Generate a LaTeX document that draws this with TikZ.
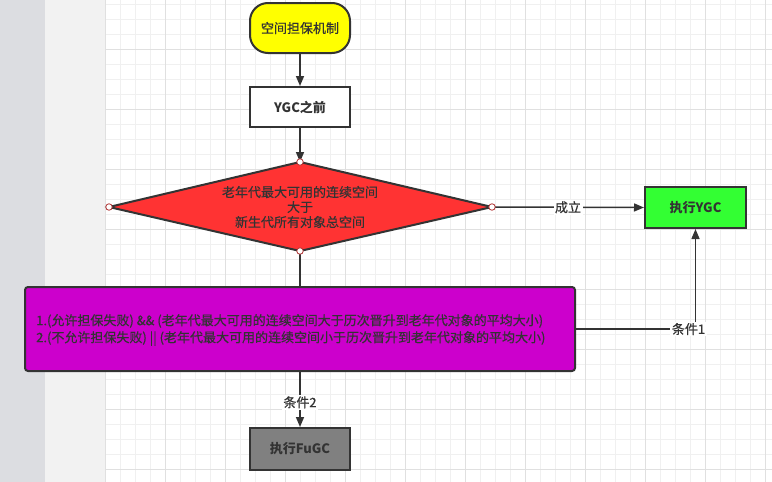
\documentclass[tikz,border=0pt]{standalone}
\usepackage{fontspec}
\setmainfont{Noto Sans CJK SC}
\newfontfamily\medfont[FakeBold=0.6]{Noto Sans CJK SC}
\usetikzlibrary{arrows.meta}
\definecolor{ink}{HTML}{333333}
\definecolor{stripA}{HTML}{DCDDE1}
\definecolor{stripB}{HTML}{F2F2F2}
\definecolor{gridminor}{HTML}{F0F0F0}
\definecolor{gridmajor}{HTML}{E0E0E0}
\definecolor{startfill}{HTML}{FFFF00}
\definecolor{dfill}{HTML}{FF3333}
\definecolor{gfill}{HTML}{33FF33}
\definecolor{pfill}{HTML}{CC00CC}
\definecolor{grayfill}{HTML}{808080}
\definecolor{portred}{HTML}{B03030}
\tikzset{
  boxbase/.style={draw=ink, line width=2pt, text=ink, font=\medfont\fontsize{13pt}{15pt}\selectfont, inner sep=2pt, align=center},
  procbox/.style={boxbase, minimum width=100pt, minimum height=40pt},
  edge/.style={draw=ink, line width=1.5pt, -{Triangle[length=10pt,width=8pt]}},
  plainedge/.style={draw=ink, line width=1.5pt},
  elabel/.style={fill=white, text=ink, font=\medfont\fontsize{13pt}{15pt}\selectfont, inner sep=1.5pt},
  port/.style={circle, draw=portred, fill=white, line width=0.8pt, inner sep=0pt, minimum size=6.5pt},
  minorline/.style={draw=gridminor, line width=0.8pt},
  majorline/.style={draw=gridmajor, line width=0.8pt}
}
\begin{document}
\begin{tikzpicture}[x=1pt,y=-1pt]
\useasboundingbox (0,0) rectangle (772,482);
% background
\fill[stripA] (0,0) rectangle (45,482);
\fill[stripB] (45,0) rectangle (105,482);
\fill[white] (105,0) rectangle (772,482);
\foreach \x in {105,120,...,772} \draw[minorline] (\x,0) -- (\x,482);
\foreach \y in {4,19,...,482} \draw[minorline] (105,\y) -- (772,\y);
\foreach \x in {105,165,...,772} \draw[majorline] (\x,0) -- (\x,482);
\foreach \y in {49,109,...,482} \draw[majorline] (105,\y) -- (772,\y);
% nodes
\node[boxbase, fill=startfill, minimum width=100pt, minimum height=50pt, rounded corners=18pt] (start) at (300,28) {空间担保机制};
\node[procbox, fill=white] (pre) at (300,107) {\normalfont\fontsize{13pt}{15pt}\selectfont\bfseries YGC之前};
\coordinate (dt) at (300,162);
\coordinate (db) at (300,251);
\coordinate (dl) at (109,207);
\coordinate (dr) at (492,207);
\filldraw[fill=dfill, draw=ink, line width=2pt, line join=miter] (dt) -- (dr) -- (db) -- (dl) -- cycle;
\node[text=ink, font=\medfont\fontsize{13pt}{15pt}\selectfont, align=center] (dtext) at (300,207) {老年代最大可用的连续空间\\大于\\新生代所有对象总空间};
\node[procbox, fill=gfill, minimum width=101pt, minimum height=41pt] (ygc) at (695.5,207.5) {\normalfont\fontsize{13pt}{15pt}\selectfont\bfseries 执行YGC};
\node[boxbase, fill=pfill, minimum width=550pt, minimum height=84pt, rounded corners=3pt] (cond) at (300,329) {};
\node[text=ink, font=\medfont\fontsize{13pt}{17pt}\selectfont, align=left, anchor=west, inner sep=0pt] (condtext) at (36,330) {1.(允许担保失败) \&\& (老年代最大可用的连续空间大于历次晋升到老年代对象的平均大小)\\2.(不允许担保失败) || (老年代最大可用的连续空间小于历次晋升到老年代对象的平均大小)};
\node[procbox, fill=grayfill, minimum height=42pt] (fugc) at (300,449) {\normalfont\fontsize{13pt}{15pt}\selectfont\bfseries 执行FuGC};
% edges
\draw[edge] (start) -- (pre);
\draw[edge] (pre) -- (dt);
\draw[edge] (dr) -- node[elabel]{成立} (ygc.west);
\draw[plainedge] (db) -- (cond.north);
\draw[edge] (cond.east) -| node[elabel, xshift=-7pt]{条件1} (ygc.south);
\draw[edge] (cond.south) -- node[elabel, pos=0.55]{条件2} (fugc.north);
% ports
\node[port] (pt) at (dt) {};
\node[port] (pb) at (db) {};
\node[port] (pl) at (dl) {};
\node[port] (pr) at (dr) {};
\end{tikzpicture}
\end{document}
